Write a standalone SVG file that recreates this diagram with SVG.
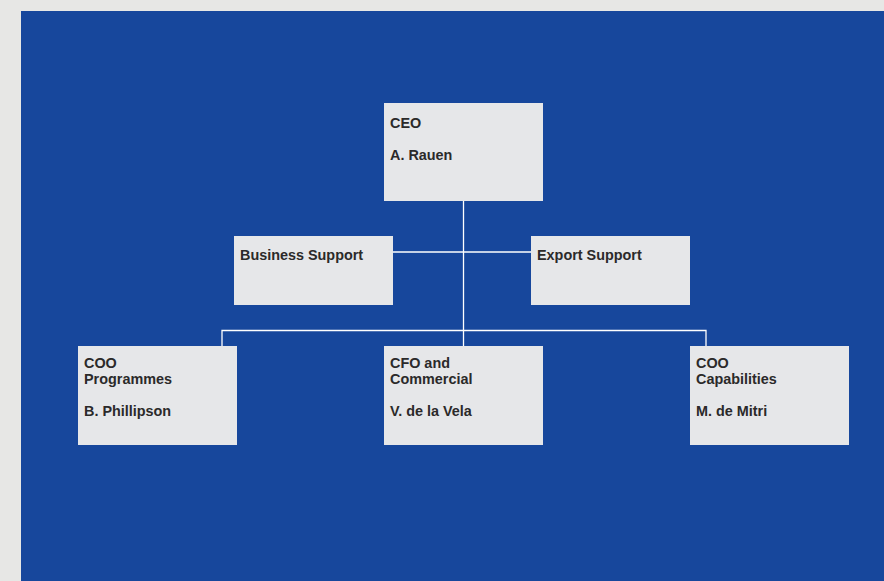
<svg xmlns="http://www.w3.org/2000/svg" width="884" height="581" viewBox="0 0 884 581">
<style>
.box{fill:#e6e7e9}
.t{font-family:"Liberation Sans",Arial,sans-serif;font-weight:bold;font-size:14.4px;fill:#2b2a2a}
.c{stroke:#ffffff;stroke-width:1.3;fill:none}
</style>
<rect x="0" y="0" width="884" height="581" fill="#e7e7e5"/>
<rect x="21" y="11" width="863" height="570" fill="#17479c"/>
<g id="connectors">
<path class="c" d="M463.5 201V346"/>
<path class="c" d="M393 252H531"/>
<path class="c" d="M222 346V330.5H706V346"/>
</g>
<g id="ceo"><rect class="box" x="384" y="103" width="159" height="98"/>
<text class="t" x="390" y="128">CEO</text><text class="t" x="390" y="160">A. Rauen</text></g>
<g id="business-support"><rect class="box" x="234" y="236" width="159" height="69"/>
<text class="t" x="240" y="260">Business Support</text></g>
<g id="export-support"><rect class="box" x="531" y="236" width="159" height="69"/>
<text class="t" x="537" y="260">Export Support</text></g>
<g id="coo-programmes"><rect class="box" x="78" y="346" width="159" height="99"/>
<text class="t" x="84" y="368">COO</text><text class="t" x="84" y="384">Programmes</text><text class="t" x="84" y="416">B. Phillipson</text></g>
<g id="cfo"><rect class="box" x="384" y="346" width="159" height="99"/>
<text class="t" x="390" y="368">CFO and</text><text class="t" x="390" y="384">Commercial</text><text class="t" x="390" y="416">V. de la Vela</text></g>
<g id="coo-capabilities"><rect class="box" x="690" y="346" width="159" height="99"/>
<text class="t" x="696" y="368">COO</text><text class="t" x="696" y="384">Capabilities</text><text class="t" x="696" y="416">M. de Mitri</text></g>
</svg>
